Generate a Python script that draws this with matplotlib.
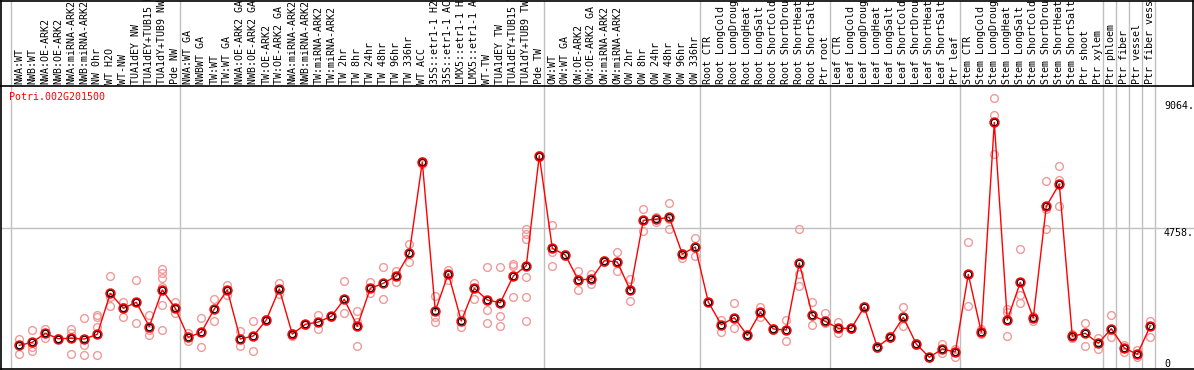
import numpy as np
import matplotlib
matplotlib.use('Agg')
import matplotlib.pyplot as plt

gene = 'Potri.002G201500'

samples = ['NWA:WT', 'NWB:WT', 'NWA:OE-ARK2', 'NWB:OE-ARK2', 'NWA:miRNA-ARK2',
           'NWB:miRNA-ARK2', 'NW 0hr', 'WT H2O', 'WT-NW', 'TUA1dEY NW',
           'TUA1dEY+TUB15 NW', 'TUA1dY+TUB9 NW', 'Pde NW',
           'NWA:WT GA', 'NWBWT GA', 'TW:WT', 'TW:WT GA', 'NWA:OE-ARK2 GA',
           'NWB:OE-ARK2 GA', 'TW:OE-ARK2', 'TW:OE-ARK2 GA', 'NWA:miRNA-ARK2',
           'NWB:miRNA-ARK2', 'TW:miRNA-ARK2', 'TW:miRNA-ARK2', 'TW 2hr', 'TW 8hr',
           'TW 24hr', 'TW 48hr', 'TW 96hr', 'TW 336hr', 'WT ACC', '35S::etr1-1 H2O',
           '35S::etr1-1 ACC', 'LMX5::etr1-1 H2O', 'LMX5::etr1-1 ACC', 'WT-TW',
           'TUA1dEY TW', 'TUA1dEY+TUB15 TW', 'TUA1dY+TUB9 TW', 'Pde TW',
           'OW:WT', 'OW:WT GA', 'OW:OE-ARK2', 'OW:OE-ARK2 GA', 'OW:miRNA-ARK2',
           'OW:miRNA-ARK2', 'OW 2hr', 'OW 8hr', 'OW 24hr', 'OW 48hr', 'OW 96hr',
           'OW 336hr',
           'Root CTR', 'Root LongCold', 'Root LongDrought', 'Root LongHeat',
           'Root LongSalt', 'Root ShortCold', 'Root ShortDrought', 'Root ShortHeat',
           'Root ShortSalt', 'Ptr root',
           'Leaf CTR', 'Leaf LongCold', 'Leaf LongDrought', 'Leaf LongHeat',
           'Leaf LongSalt', 'Leaf ShortCold', 'Leaf ShortDrought', 'Leaf ShortHeat',
           'Leaf ShortSalt', 'Ptr leaf',
           'Stem CTR', 'Stem LongCold', 'Stem LongDrought', 'Stem LongHeat',
           'Stem LongSalt', 'Stem ShortCold', 'Stem ShortDrought', 'Stem ShortHeat',
           'Stem ShortSalt', 'Ptr shoot', 'Ptr xylem', 'Ptr phloem', 'Ptr fiber',
           'Ptr vessel', 'Ptr fiber vessel']

# mean expression per sample
means = [801, 903, 1207, 1026, 1038, 1015, 1173, 2560, 2053, 2256, 1432, 2672, 2053,
         1072, 1241, 2029, 2672, 1015, 1116, 1657, 2706, 1180, 1512, 1590, 1782, 2357,
         1444, 2729, 2898, 3145, 3912, 7001, 1962, 3224, 1623, 2729, 2334, 2243, 3145,
         3494, 7214,
         4082, 3856, 3010, 3044, 3663, 3619, 2661, 5029, 5063, 5131, 3889, 4126,
         2266, 1498, 1735, 1140, 1918, 1353, 1319, 3585, 1816, 1613,
         1376, 1376, 2097, 744, 1072, 1748, 846, 396, 676, 575,
         3203, 1241, 8343, 1657, 2932, 1725, 5502, 6257, 1106, 1207, 869, 1363,
         710, 497, 1454]

# individual replicates
reps = [[1026, 800, 497], [1319, 754, 609], [1342, 1038, 1230], [1060, 1010],
        [1342, 1230, 497], [1714, 812, 463], [1826, 1770, 1432, 473],
        [3145, 2445, 2131], [2266, 1770, 2100], [3000, 1545, 2250],
        [1826, 1319, 1150], [3382, 3236, 3067, 2763, 2165, 1319], [2256, 1884],
        [1228, 957], [1714, 734], [2357, 1623], [2841, 2503], [1285, 768],
        [1623, 609], [1680, 1640], [2898, 2537], [1230, 1130], [1530, 1500],
        [1816, 1342], [1800, 1770], [2966, 1904], [1951, 1579, 768], [2932, 2582],
        [3439, 2357], [3314, 2942], [4227, 3629], [7050, 6950], [2469, 1750, 1579],
        [3348, 3010], [1860, 1410], [2898, 2367], [3450, 1985, 1556],
        [3450, 1782, 1444], [3541, 3480, 2435],
        [4725, 4566, 4397, 3122, 2435, 1634], [7250, 7180],
        [4870, 3947, 3483], [3880, 3830], [3314, 2672], [3203, 2865], [3700, 3630],
        [3947, 3304], [3044, 2300], [5411, 4667], [5150, 4980], [5604, 5063, 4725],
        [3920, 3744], [4431, 3822],
        [2280, 2250], [1647, 1241], [2232, 1397], [1180, 1100], [2087, 1750],
        [1380, 1330], [1657, 947], [4725, 3203, 2797], [2266, 1478], [1884, 1550],
        [1590, 1207], [1400, 1350], [2120, 2080], [780, 720], [1100, 1040],
        [2087, 1444], [870, 820], [420, 370], [846, 531], [680, 416],
        [4305, 2120], [1342, 1180], [9155, 8580, 7261], [2039, 1938, 1106],
        [4048, 2503, 2222], [1800, 1613], [6358, 5411, 4725], [6855, 6392, 5502],
        [1180, 1050], [1545, 768], [1038, 687], [1816, 1093], [822, 585],
        [632, 396], [1634, 1072]]

group_ends = [-1, 12, 40, 52, 62, 72, 83, 84, 85, 86, 87]  # last index of each group
yticks = [0, 4758, 9064]

W, H = 1194, 370
fig = plt.figure(figsize=(W / 100, H / 100), dpi=100)
mono = 'DejaVu Sans Mono'
fs = 7.2
grey = '#c0c0c0'

# pixel mapping: sample i sits at x = 19.3 + 13*i
x0, dx = 19.3, 13.0
xl = (1 - x0) / dx
xr = (W - x0) / dx

ax = fig.add_axes([1 / W, 1 / H, (W - 1) / W, 283 / H])
lab = fig.add_axes([1 / W, (H - 86) / H, (W - 2) / W, 85.5 / H])

x = np.arange(len(samples))
for i, r in enumerate(reps):
    ax.plot([i] * len(r), r, 'o', ms=5.6, mfc='none', mec='#f09a9a', mew=1.0, zorder=2)
ax.plot(x, means, '-', color='red', lw=1, zorder=3)
ax.plot(x, means, 'o', ms=6.4, mfc='none', mec='red', mew=1.1, zorder=4)
ax.plot(x, means, 'o', ms=4.6, mfc='none', mec='black', mew=0.8, zorder=5)

for g in group_ends:
    ax.axvline(g + 0.36, color=grey, lw=1, zorder=1)
    lab.axvline(g + 0.36, color=grey, lw=1, zorder=1)
ax.axhline(yticks[1], color=grey, lw=1, zorder=1)

ax.set_xlim(xl, xr)
ax.set_ylim(0, 283 * 33.82)
ax.set_xticks([])
ax.set_yticks([])
ax.spines['right'].set_visible(False)
ax.spines['top'].set_visible(False)
for s in ['left', 'bottom']:
    ax.spines[s].set_linewidth(1.2)
    ax.spines[s].set_color('black')

tx = (1164 - x0) / dx
ax.text(tx, yticks[2], '9064.', family=mono, fontsize=fs, ha='left', va='top')
ax.text(tx, yticks[1], '4758.', family=mono, fontsize=fs, ha='left', va='top')
ax.text(tx, yticks[0], '0', family=mono, fontsize=fs, ha='left', va='bottom')

ax.text(8.3 / (W - 1), 1 - 10.7 / 283, gene, transform=ax.transAxes, family=mono,
        fontsize=fs, color='red', ha='left', va='center')

lab.set_xlim(xl, (W - 1 - x0) / dx)
lab.set_ylim(0, 1)
lab.set_xticks([])
lab.set_yticks([])
for s in lab.spines.values():
    s.set_linewidth(1.2)
    s.set_color('black')
for i, name in enumerate(samples):
    lab.text(i, 0.025, name, rotation=90, family=mono, fontsize=fs,
             ha='center', va='bottom', clip_on=False)

fig.savefig('out.png', dpi=100)
